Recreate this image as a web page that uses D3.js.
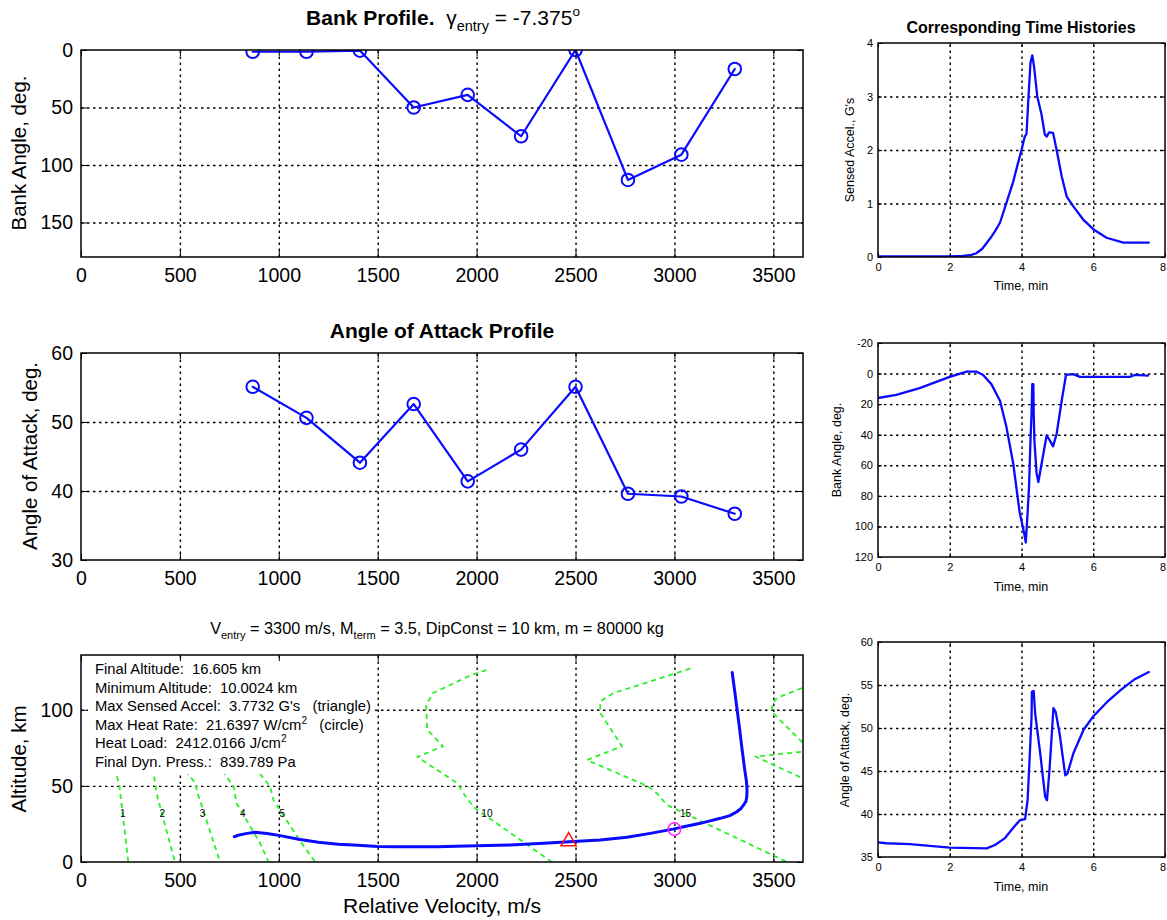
<!DOCTYPE html>
<html><head><meta charset="utf-8">
<script src="https://cdn.jsdelivr.net/npm/d3@7"></script>
<style>
body{margin:0;background:#fff;}
svg text{font-family:"Liberation Sans",Arial,sans-serif;fill:#000;white-space:pre;}
</style></head><body>
<script>
// ---------------- DATA ----------------
const velTicks = [0, 500, 1000, 1500, 2000, 2500, 3000, 3500];
const bankTicks = [0, 50, 100, 150];
const aoaTicks = [30, 40, 50, 60];
const altTicks = [0, 50, 100];
const timeTicks = [0, 2, 4, 6, 8];
const accelTicks = [0, 1, 2, 3, 4];
const bankHistTicks = [-20, 0, 20, 40, 60, 80, 100, 120];
const aoaHistTicks = [35, 40, 45, 50, 55, 60];

// profile nodes (relative velocity, m/s)
const profileVel = [868, 1140, 1410, 1682, 1955, 2225, 2500, 2765, 3035, 3305];
const bankProfile = [1.5, 1.5, 0.5, 50, 39, 75, 0, 113, 91, 16.5];
const aoaProfile = [55.1, 50.6, 44.1, 52.6, 41.4, 46.0, 55.1, 39.6, 39.2, 36.7];

// trajectory: altitude vs relative velocity
const trajVel = [3292, 3305, 3317, 3330, 3342, 3355, 3364, 3367, 3366, 3362, 3350, 3335, 3316, 3280, 3232, 3180, 3131, 3047, 2993, 2878, 2760, 2625, 2490, 2338, 2170, 2000, 1900, 1800, 1700, 1600, 1500, 1400, 1300, 1200, 1100, 1000, 940, 880, 840, 800, 775];
const trajAlt = [124.5, 112, 100, 87, 74, 61, 53, 47, 43, 40, 37.5, 35, 33, 30.5, 28.7, 27, 25.4, 23.2, 21.6, 18.8, 16.2, 14.5, 13.4, 12.3, 11.2, 10.6, 10.3, 10.1, 10.0, 10.0, 10.2, 11.0, 11.7, 13.0, 15.0, 17.5, 18.7, 19.5, 18.8, 17.8, 16.6];
const maxAccelVel = [2465], maxAccelAlt = [13.6];
const maxHeatVel = [3000], maxHeatAlt = [21.6];

// green dashed contour lines (velocity, altitude)
const c1Vel = [170, 194, 239], c1Alt = [62, 50, 0];
const c2Vel = [362, 386, 475], c2Alt = [62, 43, 0];
const c3Vel = [528, 577, 590, 703], c3Alt = [60, 52, 45, 0];
const c4Vel = [715, 771, 787, 846, 905, 948], c4Alt = [60, 49.5, 38.6, 25.6, 12.5, 0];
const c5Vel = [905, 956, 973, 1049, 1116, 1184], c5Alt = [58, 49.5, 40.8, 25.4, 12.3, 0];
const c10Vel = [2050, 1975, 1780, 1745, 1750, 1830, 1700, 1900, 1940, 1985, 2380];
const c10Alt = [126, 123, 111, 103, 87, 76, 69, 52, 44, 36, 0];
const c15Vel = [3080, 2692, 2625, 2625, 2735, 2558, 2870, 2912, 2962, 3569];
const c15Alt = [127, 111, 105.5, 98, 76, 67, 49.5, 45, 37.5, 0];
const c20Vel = [3900, 3520, 3495, 3490, 3690, 3409, 3740];
const c20Alt = [127, 108, 104, 99, 73, 69.3, 49.5];
const contourLabels = ["1", "2", "3", "4", "5", "10", "15"];
const contourLabelVel = [211, 411, 614, 818, 1018, 2052, 3056];
const contourLabelAlt = [32, 32, 32, 32, 32, 32, 32];

const summaryLines = [
  "Final Altitude:  16.605 km",
  "Minimum Altitude:  10.0024 km",
  "Max Sensed Accel:  3.7732 G's   (triangle)",
  "Max Heat Rate:  21.6397 W/cm|2|   (circle)",
  "Heat Load:  2412.0166 J/cm|2|",
  "Final Dyn. Press.:  839.789 Pa"
];

// time histories
const accelTime = [0, 1, 2, 2.37, 2.6, 2.74, 2.9, 3.12, 3.25, 3.40, 3.58, 3.77, 3.9, 4.0, 4.09, 4.14, 4.19, 4.25, 4.30, 4.35, 4.44, 4.56, 4.65, 4.70, 4.77, 4.88, 4.98, 5.12, 5.26, 5.44, 5.72, 6.0, 6.37, 6.84, 7.2, 7.55];
const accelG = [0.01, 0.01, 0.01, 0.02, 0.04, 0.07, 0.15, 0.34, 0.47, 0.64, 1.01, 1.41, 1.75, 2.0, 2.25, 2.3, 2.94, 3.63, 3.77, 3.56, 3.0, 2.66, 2.29, 2.25, 2.33, 2.32, 2.0, 1.51, 1.13, 0.95, 0.70, 0.52, 0.36, 0.27, 0.27, 0.27];
const bankTime = [0, 0.51, 1.16, 2.0, 2.47, 2.74, 2.93, 3.16, 3.40, 3.58, 3.77, 3.95, 4.07, 4.12, 4.17, 4.21, 4.25, 4.28, 4.30, 4.33, 4.34, 4.36, 4.42, 4.47, 4.56, 4.70, 4.79, 4.88, 4.98, 5.12, 5.24, 5.44, 5.63, 7.02, 7.16, 7.53];
const bankHist = [16, 13.9, 9.5, 2.2, -1.3, -1.3, 0.9, 6.9, 17.8, 35, 59, 91, 104, 110.5, 91, 74, 44, 26, 7, 7, 26, 44, 65, 71, 59, 40.5, 43.7, 47.6, 39.4, 17.8, 0.9, 0.4, 2.2, 2.2, 0.9, 1.3];
const aoaTime = [0, 0.23, 0.89, 2.0, 3.03, 3.26, 3.54, 3.77, 3.96, 4.10, 4.17, 4.22, 4.28, 4.29, 4.34, 4.38, 4.52, 4.66, 4.71, 4.78, 4.89, 4.95, 5.06, 5.22, 5.28, 5.45, 5.73, 5.99, 6.38, 6.76, 7.13, 7.55];
const aoaHist = [36.7, 36.6, 36.5, 36.1, 36.0, 36.4, 37.2, 38.4, 39.3, 39.4, 41.6, 45.9, 51.3, 54.2, 54.3, 51.7, 47.1, 42.0, 41.6, 45.1, 52.3, 51.9, 49.4, 44.5, 44.7, 47.1, 49.8, 51.3, 53.0, 54.4, 55.6, 56.5];

// ---------------- DRAW ----------------
const W = 1167, H = 920;
const FONT = '"Liberation Sans", Arial, sans-serif';
const BLUE = "#0a0aff", GREEN = "#2af02a";
const svg = d3.select("body").append("svg").attr("width", W).attr("height", H).style("display", "block");
svg.append("rect").attr("width", W).attr("height", H).attr("fill", "#fff");
let clipId = 0;

function panel(o) {
  const g = svg.append("g").attr("transform", `translate(${o.x},${o.y})`);
  const xs = d3.scaleLinear().domain(o.xd).range([0, o.w]);
  const ys = d3.scaleLinear().domain(o.yd).range(o.yrev ? [0, o.h] : [o.h, 0]);
  const ymin = Math.min(...o.yd), ymax = Math.max(...o.yd);
  const gx = o.xt.filter(v => v > o.xd[0] && v < o.xd[1]);
  const gy = o.yt.filter(v => v > ymin && v < ymax);
  const grid = g.append("g");
  grid.append("g").attr("transform", `translate(0,${o.h})`)
    .call(d3.axisBottom(xs).tickValues(gx).tickSize(-o.h).tickFormat(""));
  grid.append("g").call(d3.axisLeft(ys).tickValues(gy).tickSize(-o.w).tickFormat(""));
  grid.selectAll(".domain").remove();
  grid.selectAll(".tick line").attr("stroke", "#000").attr("stroke-width", 1.4)
    .attr("stroke-dasharray", "2.5,3.5");
  const id = "clip" + (clipId++);
  g.append("clipPath").attr("id", id).append("rect").attr("width", o.w).attr("height", o.h);
  const plot = g.append("g").attr("clip-path", `url(#${id})`);
  const ax = g.append("g");
  const fmt = d => String(d);
  const bottom = ax.append("g").attr("transform", `translate(0,${o.h})`)
    .call(d3.axisBottom(xs).tickValues(o.xt).tickSize(-o.tick).tickPadding(o.xpad).tickFormat(fmt));
  ax.append("g").call(d3.axisLeft(ys).tickValues(o.yt).tickSize(-o.tick).tickPadding(o.ypad).tickFormat(fmt));
  ax.append("g").call(d3.axisTop(xs).tickValues(o.xt).tickSize(-o.tick).tickFormat(""));
  ax.append("g").attr("transform", `translate(${o.w},0)`)
    .call(d3.axisRight(ys).tickValues(o.yt).tickSize(-o.tick).tickFormat(""));
  ax.selectAll(".domain").remove();
  ax.selectAll(".tick line").attr("stroke", "#000").attr("stroke-width", 1);
  ax.selectAll("g").attr("font-family", FONT).attr("font-size", o.fs);
  ax.selectAll("text").attr("font-size", o.fs).attr("font-family", FONT).attr("fill", "#000");
  // keep last x tick label inside the window
  if (o.lastShift) bottom.selectAll(".tick text").filter(d => d === o.xt[o.xt.length - 1]).attr("dx", o.lastShift);
  g.append("rect").attr("width", o.w).attr("height", o.h)
    .attr("fill", "none").attr("stroke", "#000").attr("stroke-width", 1.5);
  return { g, xs, ys, plot, o };
}

function line(p, xv, yv, color, width, dash) {
  const pts = xv.map((x, i) => [x, yv[i]]);
  const path = p.plot.append("path").datum(pts)
    .attr("d", d3.line().x(d => p.xs(d[0])).y(d => p.ys(d[1])))
    .attr("fill", "none").attr("stroke", color).attr("stroke-width", width)
    .attr("stroke-linejoin", "round").attr("stroke-linecap", "round");
  if (dash) path.attr("stroke-dasharray", dash).attr("stroke-linecap", "butt");
  return path;
}
function circles(p, xv, yv) {
  p.plot.selectAll(null).data(xv.map((x, i) => [x, yv[i]])).enter().append("circle")
    .attr("cx", d => p.xs(d[0])).attr("cy", d => p.ys(d[1])).attr("r", 6.3)
    .attr("fill", "none").attr("stroke", BLUE).attr("stroke-width", 2);
}
function label(x, y, txt, size, opts = {}) {
  const t = svg.append("text").attr("x", x).attr("y", y).attr("font-size", size)
    .attr("text-anchor", opts.anchor || "middle").attr("dominant-baseline", "central")
    .text(txt);
  if (opts.rot) t.attr("transform", `rotate(-90,${x},${y})`);
  if (opts.bold) t.attr("font-weight", "bold");
  return t;
}

const L = { x: 81, w: 722, h: 207, xd: [0, 3650], xt: velTicks, fs: 19.5, tick: 6, xpad: 11, ypad: 8 };
const R = { x: 878, w: 287, xd: [0, 8], xt: timeTicks, fs: 11, tick: 4, xpad: 6, ypad: 5, lastShift: -2.5 };

// ---- Panel 1: Bank profile
const p1 = panel({ ...L, y: 50, yd: [0, 180], yrev: true, yt: bankTicks });
line(p1, profileVel, bankProfile, BLUE, 2.2);
circles(p1, profileVel, bankProfile);
{
  const t = svg.append("text").attr("x", 443).attr("y", 25).attr("text-anchor", "middle").attr("font-size", 21);
  t.append("tspan").attr("font-weight", "bold").text("Bank Profile.  ");
  t.append("tspan").text("γ");
  t.append("tspan").attr("font-size", 14.5).attr("dy", 6).text("entry");
  t.append("tspan").attr("dy", -6).text(" = -7.375");
  t.append("tspan").attr("font-size", 13.5).attr("dy", -9).text("o");
}
label(18, 153, "Bank Angle, deg.", 20.5, { rot: true });

// ---- Panel 2: AoA profile
const p2 = panel({ ...L, y: 353, yd: [30, 60], yt: aoaTicks });
line(p2, profileVel, aoaProfile, BLUE, 2.2);
circles(p2, profileVel, aoaProfile);
label(442, 330, "Angle of Attack Profile", 21, { bold: true });
label(29, 456, "Angle of Attack, deg.", 20.5, { rot: true });

// ---- Panel 3: Altitude vs velocity
const p3 = panel({ ...L, y: 655, yd: [0, 136], yt: altTicks });
[[c1Vel, c1Alt], [c2Vel, c2Alt], [c3Vel, c3Alt], [c4Vel, c4Alt], [c5Vel, c5Alt],
 [c10Vel, c10Alt], [c15Vel, c15Alt], [c20Vel, c20Alt]].forEach(c => line(p3, c[0], c[1], GREEN, 1.8, "5,4"));
p3.plot.selectAll(null).data(contourLabels).enter().append("text")
  .attr("x", (d, i) => p3.xs(contourLabelVel[i])).attr("y", (d, i) => p3.ys(contourLabelAlt[i]))
  .attr("text-anchor", "middle").attr("dominant-baseline", "central").attr("font-size", 10).text(d => d);
// white text box
p3.plot.append("rect").attr("x", 7).attr("y", 3).attr("width", 285).attr("height", 116).attr("fill", "#fff");
summaryLines.forEach((s, i) => {
  const parts = s.split("|");
  const t = p3.plot.append("text").attr("x", 14).attr("y", 19 + i * 18.6).attr("font-size", 14.8);
  t.append("tspan").text(parts[0]);
  if (parts.length > 1) {
    t.append("tspan").attr("font-size", 10).attr("dy", -6).text(parts[1]);
    t.append("tspan").attr("dy", 6).text(parts[2]);
  }
});
line(p3, trajVel, trajAlt, BLUE, 3);
p3.plot.selectAll(null).data(maxAccelVel).enter().append("path")
  .attr("transform", (d, i) => `translate(${p3.xs(d)},${p3.ys(maxAccelAlt[i])})`)
  .attr("d", d3.symbol(d3.symbolTriangle, 100))
  .attr("fill", "none").attr("stroke", "#ff1010").attr("stroke-width", 1.5);
p3.plot.selectAll(null).data(maxHeatVel).enter().append("circle")
  .attr("cx", d => p3.xs(d)).attr("cy", (d, i) => p3.ys(maxHeatAlt[i])).attr("r", 6.3)
  .attr("fill", "none").attr("stroke", "#ff20ff").attr("stroke-width", 1.5);
{
  const t = svg.append("text").attr("x", 437).attr("y", 634).attr("text-anchor", "middle").attr("font-size", 16.3);
  t.append("tspan").text("V");
  t.append("tspan").attr("font-size", 11).attr("dy", 5).text("entry");
  t.append("tspan").attr("dy", -5).text(" = 3300 m/s, M");
  t.append("tspan").attr("font-size", 11).attr("dy", 5).text("term");
  t.append("tspan").attr("dy", -5).text(" = 3.5, DipConst = 10 km, m = 80000 kg");
}
label(18, 759, "Altitude, km", 20.5, { rot: true });
label(442, 905, "Relative Velocity, m/s", 21);

// ---- Right panels
const p4 = panel({ ...R, y: 43, h: 214, yd: [0, 4], yt: accelTicks });
line(p4, accelTime, accelG, BLUE, 2.3);
label(1021, 27, "Corresponding Time Histories", 16, { bold: true });
label(850, 150, "Sensed Accel., G's", 12.5, { rot: true });
label(1021, 286, "Time, min", 12.5);

const p5 = panel({ ...R, y: 343, h: 214, yd: [-20, 120], yrev: true, yt: bankHistTicks });
line(p5, bankTime, bankHist, BLUE, 2.3);
label(837, 450, "Bank Angle, deg.", 12.5, { rot: true });
label(1021, 587, "Time, min", 12.5);

const p6 = panel({ ...R, y: 642, h: 215, yd: [35, 60], yt: aoaHistTicks });
line(p6, aoaTime, aoaHist, BLUE, 2.3);
label(845, 750, "Angle of Attack, deg.", 12.5, { rot: true });
label(1021, 887, "Time, min", 12.5);
</script>
</body></html>
